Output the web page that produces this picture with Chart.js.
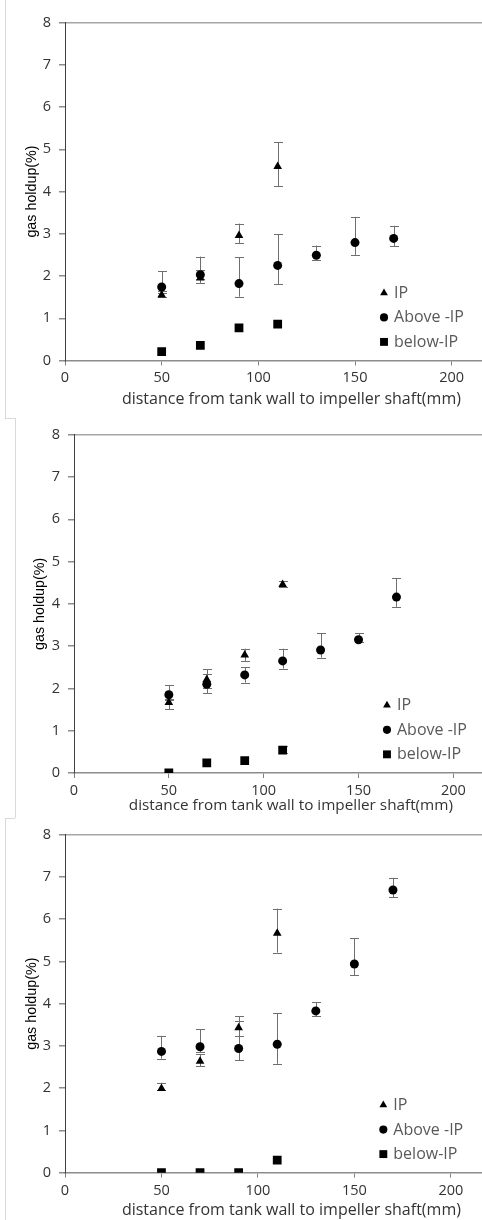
<!DOCTYPE html>
<html><head><meta charset="utf-8">
<script src="https://cdn.jsdelivr.net/npm/chart.js@4.4.0/dist/chart.umd.min.js"></script>
<style>
html,body{margin:0;padding:0;background:#fff;}
body{width:482px;height:1220px;position:relative;overflow:hidden;}
.panel{position:absolute;left:0;width:482px;overflow:hidden;background:#fff;}
.panel canvas{display:block;}
.fl{position:absolute;background:#d9d9d9;z-index:5;}
</style></head><body>
<div class="panel" style="top:0;height:418px"><canvas id="c1" width="524" height="418"></canvas></div>
<div class="panel" style="top:418px;height:400px"><canvas id="c2" width="514" height="400"></canvas></div>
<div class="panel" style="top:818px;height:402px"><canvas id="c3" width="524" height="402"></canvas></div>
<div class="fl" style="left:5px;top:0;width:1px;height:418px"></div>
<div class="fl" style="left:5px;top:418px;width:10px;height:1px"></div>
<div class="fl" style="left:15px;top:418px;width:1px;height:400px"></div>
<div class="fl" style="left:5px;top:818px;width:10px;height:1px"></div>
<div class="fl" style="left:5px;top:818px;width:1px;height:402px"></div>
<script>
// ---------- data ----------
const xIP    = [50, 70, 90, 110];
const xAbove = [50, 70, 90, 110, 130, 150, 170];
const xBelow = [50, 70, 90, 110];
const seriesNames = ['IP', 'Above -IP', 'below-IP'];
const yTicks = [0, 1, 2, 3, 4, 5, 6, 7, 8];
const xTicks = [0, 50, 100, 150, 200];

// panel 1
const ip1      = [1.55, 1.95, 2.96, 4.59];
const ip1Lo    = [1.50, 1.83, 2.77, 4.13];
const ip1Hi    = [1.60, 2.15, 3.24, 5.17];
const above1   = [1.74, 2.03, 1.82, 2.25, 2.49, 2.79, 2.89];
const above1Lo = [1.65, 1.92, 1.51, 1.80, 2.39, 2.50, 2.71];
const above1Hi = [2.11, 2.46, 2.44, 2.99, 2.72, 3.40, 3.19];
const below1   = [0.21, 0.36, 0.77, 0.86];
const below1Lo = [0.21, 0.36, 0.77, 0.86];
const below1Hi = [0.21, 0.36, 0.77, 0.86];

// panel 2
const ip2      = [1.67, 2.21, 2.79, 4.46];
const ip2Lo    = [1.51, 2.00, 2.65, 4.40];
const ip2Hi    = [1.72, 2.46, 2.94, 4.53];
const above2   = [1.85, 2.10, 2.32, 2.65, 2.91, 3.15, 4.16];
const above2Lo = [1.75, 1.88, 2.14, 2.47, 2.73, 3.10, 3.93];
const above2Hi = [2.07, 2.33, 2.50, 2.94, 3.31, 3.30, 4.61];
const below2   = [0.00, 0.24, 0.29, 0.54];
const below2Lo = [0.00, 0.24, 0.29, 0.48];
const below2Hi = [0.00, 0.24, 0.29, 0.63];

// panel 3
const ip3      = [1.99, 2.64, 3.43, 5.67];
const ip3Lo    = [1.95, 2.52, 3.23, 5.21];
const ip3Hi    = [2.13, 2.80, 3.71, 6.25];
const above3   = [2.87, 2.98, 2.94, 3.04, 3.83, 4.94, 6.69];
const above3Lo = [2.70, 2.85, 2.66, 2.58, 3.71, 4.68, 6.52];
const above3Hi = [3.24, 3.39, 3.58, 3.78, 4.04, 5.55, 6.98];
const below3   = [0.00, 0.00, 0.00, 0.30];
const below3Lo = [0.00, 0.00, 0.00, 0.30];
const below3Hi = [0.00, 0.00, 0.00, 0.30];

// ---------- chart ----------
Chart.defaults.font.family = "'Open Sans', sans-serif";
Chart.defaults.animation = false;

const pts = (xs, ys) => xs.map((x, i) => ({x: x, y: ys[i]}));

const errorBars = {
  id: 'errorBars',
  beforeDatasetsDraw(chart) {
    const ctx = chart.ctx, xs = chart.scales.x, ys = chart.scales.y;
    ctx.save();
    ctx.strokeStyle = '#6f6f6f';
    ctx.lineWidth = 1;
    chart.data.datasets.forEach(ds => {
      ds.data.forEach((p, i) => {
        const lo = ds.errLo[i], hi = ds.errHi[i];
        if (hi - lo < 0.001) return;
        const px = Math.round(xs.getPixelForValue(p.x)) + 0.5;
        const y1 = ys.getPixelForValue(lo), y2 = ys.getPixelForValue(hi);
        ctx.beginPath();
        ctx.moveTo(px, y1); ctx.lineTo(px, y2);
        ctx.moveTo(px - 4.5, Math.round(y1) + 0.5); ctx.lineTo(px + 4.5, Math.round(y1) + 0.5);
        ctx.moveTo(px - 4.5, Math.round(y2) + 0.5); ctx.lineTo(px + 4.5, Math.round(y2) + 0.5);
        ctx.stroke();
      });
    });
    ctx.restore();
  }
};

const insetLegend = {
  id: 'insetLegend',
  afterDatasetsDraw(chart, args, opts) {
    const ctx = chart.ctx, xs = chart.scales.x, ys = chart.scales.y;
    const mx = xs.getPixelForValue(opts.x);
    let my = ys.getPixelForValue(opts.y);
    ctx.save();
    ctx.font = opts.size + "px 'Open Sans', sans-serif";
    ctx.textBaseline = 'middle';
    ctx.textAlign = 'left';
    chart.data.datasets.forEach(ds => {
      ctx.fillStyle = '#000';
      Chart.helpers.drawPoint(ctx, {pointStyle: ds.pointStyle, radius: ds.pointRadius * 0.9, rotation: 0, borderWidth: 0}, mx, my);
      ctx.fillStyle = '#595959';
      ctx.fillText(ds.label, mx + 10, my + 0.5);
      my += opts.gap;
    });
    ctx.restore();
  }
};

function makePanel(id, cfg) {
  const c = document.getElementById(id);
  const H = c.height;
  new Chart(c, {
    type: 'scatter',
    data: {
      datasets: [
        {label: seriesNames[0], data: pts(xIP, cfg.ip), errLo: cfg.ipLo, errHi: cfg.ipHi,
         pointStyle: 'triangle', pointRadius: 5, backgroundColor: '#000', borderWidth: 0, pointBorderWidth: 0},
        {label: seriesNames[1], data: pts(xAbove, cfg.ab), errLo: cfg.abLo, errHi: cfg.abHi,
         pointStyle: 'circle', pointRadius: 4.5, backgroundColor: '#000', borderWidth: 0, pointBorderWidth: 0},
        {label: seriesNames[2], data: pts(xBelow, cfg.be), errLo: cfg.beLo, errHi: cfg.beHi,
         pointStyle: 'rect', pointRadius: 6.2, backgroundColor: '#000', borderWidth: 0, pointBorderWidth: 0}
      ]
    },
    options: {
      responsive: false,
      animation: false,
      events: [],
      layout: {padding: {left: 0, right: 0, top: cfg.top, bottom: 0}},
      plugins: {
        legend: {display: false},
        tooltip: {enabled: false},
        insetLegend: {x: 165, y: 1.6, gap: 24.5, size: cfg.legendSize}
      },
      scales: {
        x: {
          type: 'linear', min: 0, max: cfg.xMax,
          afterBuildTicks: s => { s.ticks = xTicks.map(v => ({value: v})); },
          ticks: {color: '#333333', font: {size: 14.5}, padding: 4, includeBounds: false},
          grid: {drawOnChartArea: false, tickLength: 5, tickColor: '#808080', lineWidth: 1},
          border: {color: '#8c8c8c', width: 1.5},
          title: {display: true, text: 'distance from tank wall to impeller shaft(mm)', color: '#333333',
                  font: {size: cfg.xTitleSize}, padding: {top: 0, bottom: cfg.xTitlePad}},
          afterFit: s => { s.height = H - cfg.bottom; }
        },
        y: {
          type: 'linear', min: 0, max: 8,
          afterBuildTicks: s => { s.ticks = yTicks.map(v => ({value: v})); },
          ticks: {color: '#333333', font: {size: 14.5}, padding: 8},
          grid: {
            drawOnChartArea: true, tickLength: 6, tickColor: '#8c8c8c', lineWidth: 1.5,
            color: c => (c.tick && c.tick.value === 8) ? '#a6a6a6' : 'rgba(0,0,0,0)'
          },
          border: {color: '#404040', width: 1},
          title: {display: true, text: 'gas holdup(%)', color: '#000',
                  font: {family: "'Liberation Sans', Arial, sans-serif", size: 14.3},
                  padding: {top: cfg.yTitlePad, bottom: 0}},
          afterFit: s => { s.width = cfg.left; }
        }
      }
    },
    plugins: [errorBars, insetLegend]
  });
}

makePanel('c1', {ip: ip1, ipLo: ip1Lo, ipHi: ip1Hi, ab: above1, abLo: above1Lo, abHi: above1Hi,
  be: below1, beLo: below1Lo, beHi: below1Hi,
  left: 65, top: 22.5, bottom: 360.5, xMax: 234.2, xTitleSize: 16, xTitlePad: 9, yTitlePad: 23, legendSize: 16});
makePanel('c2', {ip: ip2, ipLo: ip2Lo, ipHi: ip2Hi, ab: above2, abLo: above2Lo, abHi: above2Hi,
  be: below2, beLo: below2Lo, beHi: below2Hi,
  left: 74, top: 16.3, bottom: 355, xMax: 228.7, xTitleSize: 15.3, xTitlePad: 3, yTitlePad: 31, legendSize: 16});
makePanel('c3', {ip: ip3, ipLo: ip3Lo, ipHi: ip3Hi, ab: above3, abLo: above3Lo, abHi: above3Hi,
  be: below3, beLo: below3Lo, beHi: below3Hi,
  left: 65, top: 16, bottom: 354.7, xMax: 234.7, xTitleSize: 16, xTitlePad: 0, yTitlePad: 23, legendSize: 16});
</script>
</body></html>
